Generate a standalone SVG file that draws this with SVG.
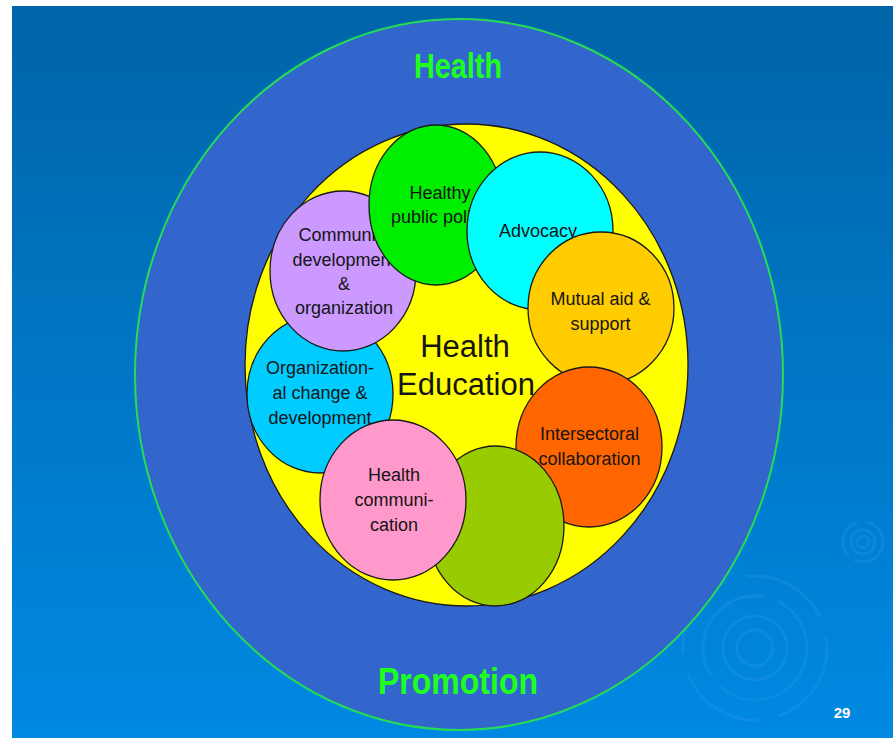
<svg xmlns="http://www.w3.org/2000/svg" width="893" height="738" viewBox="0 0 893 738">
<defs>
<linearGradient id="bg" x1="0" y1="0" x2="0" y2="1">
<stop offset="0" stop-color="#0064a8"/>
<stop offset="1" stop-color="#0089e2"/>
</linearGradient>
<style>
.n{stroke:#1a1a1a;stroke-width:1.3}
.t{font-family:"Liberation Sans",Arial,sans-serif;font-size:18px;fill:#151515;text-anchor:middle}
.big{font-size:31px}
.title{font-family:"Liberation Sans",Arial,sans-serif;font-weight:bold;fill:#1fff1f;text-anchor:middle}
.rip{fill:none;stroke:#2a98ee;stroke-opacity:0.3;stroke-width:3}
</style>
</defs>
<rect x="0" y="0" width="893" height="738" fill="#ffffff"/>
<rect x="12" y="6" width="881" height="732" fill="url(#bg)"/>
<g id="ripples">
<circle class="rip" cx="755" cy="648" r="18"/>
<circle class="rip" cx="755" cy="648" r="32"/>
<circle class="rip" cx="755" cy="648" r="52" stroke-dasharray="120 14"/>
<circle class="rip" cx="755" cy="648" r="72" stroke-dasharray="90 20"/>
<circle class="rip" cx="863" cy="542" r="6"/>
<circle class="rip" cx="863" cy="542" r="12"/>
<circle class="rip" cx="863" cy="542" r="20" stroke-dasharray="40 8"/>
</g>
<g id="health-promotion">
<ellipse cx="459" cy="374.5" rx="324" ry="355.5" fill="#3366cc" stroke="#22dd55" stroke-width="2"/>
<text class="title" x="458" y="78" font-size="35" textLength="88" lengthAdjust="spacingAndGlyphs">Health</text>
<text class="title" x="458" y="694" font-size="36" textLength="160" lengthAdjust="spacingAndGlyphs">Promotion</text>
</g>
<g id="health-education-area">
<ellipse class="n" cx="466.5" cy="365" rx="221.5" ry="241" fill="#ffff00"/>
</g>
<g id="organizational-change">
<ellipse class="n" cx="320" cy="394" rx="73" ry="79" fill="#00ccff"/>
<text class="t" x="320" y="374">Organization-</text>
<text class="t" x="320" y="399">al change &amp;</text>
<text class="t" x="320" y="424">development</text>
</g>
<g id="community-development">
<ellipse class="n" cx="343" cy="271" rx="73" ry="80" fill="#cc99ff"/>
<text class="t" x="344" y="241">Community</text>
<text class="t" x="344" y="266">development</text>
<text class="t" x="344" y="290">&amp;</text>
<text class="t" x="344" y="314">organization</text>
</g>
<g id="healthy-public-policy">
<ellipse class="n" cx="436" cy="205" rx="67" ry="80" fill="#00ee00"/>
<text class="t" x="440" y="199">Healthy</text>
<text class="t" x="440" y="223">public policy</text>
</g>
<g id="advocacy">
<ellipse class="n" cx="540" cy="231" rx="73" ry="79" fill="#00ffff"/>
<text class="t" x="538" y="237">Advocacy</text>
</g>
<g id="mutual-aid">
<ellipse class="n" cx="601" cy="308" rx="73" ry="76" fill="#ffcc00"/>
<text class="t" x="600.5" y="305">Mutual aid &amp;</text>
<text class="t" x="600.5" y="330">support</text>
</g>
<g id="intersectoral">
<ellipse class="n" cx="589" cy="447" rx="73" ry="80" fill="#ff6600"/>
</g>
<g id="unlabelled-olive">
<ellipse class="n" cx="495.5" cy="526" rx="68.5" ry="80" fill="#99cc00"/>
</g>
<g id="health-communication">
<ellipse class="n" cx="393" cy="500" rx="73" ry="80" fill="#ff99cc"/>
<text class="t" x="394" y="481">Health</text>
<text class="t" x="394" y="506">communi-</text>
<text class="t" x="394" y="531">cation</text>
</g>
<g id="labels-top">
<text class="t" x="589.5" y="440">Intersectoral</text>
<text class="t" x="589.5" y="465">collaboration</text>
<text class="t big" x="465" y="357">Health</text>
<text class="t big" x="466" y="395">Education</text>
</g>
<text x="842" y="718" font-family="Liberation Sans,Arial,sans-serif" font-weight="bold" font-size="15" fill="#ffffff" text-anchor="middle">29</text>
</svg>
